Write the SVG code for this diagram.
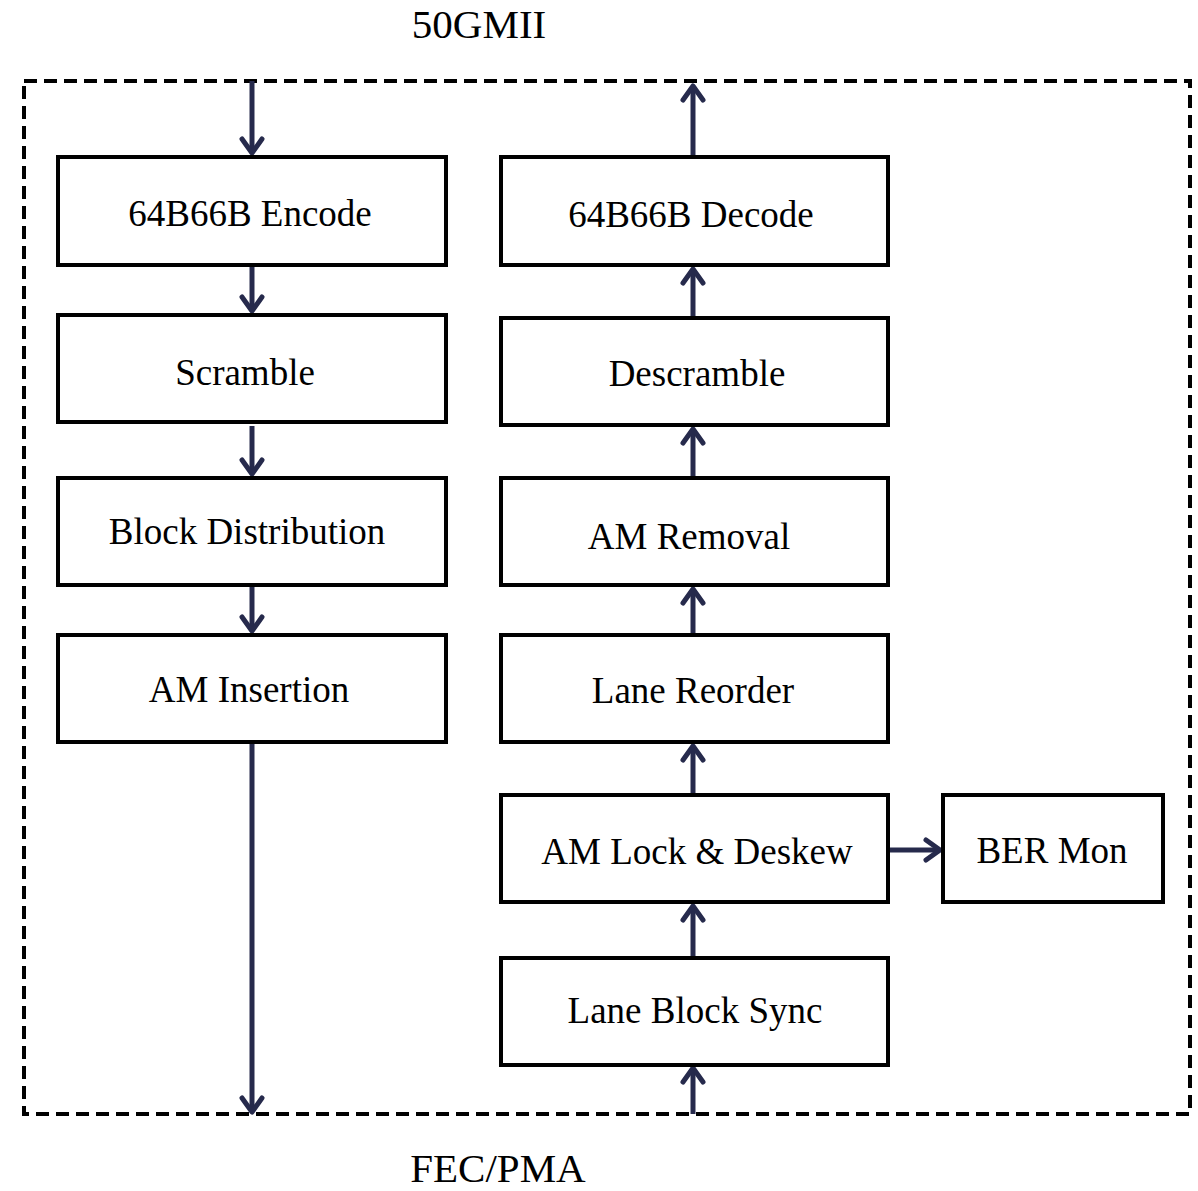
<svg xmlns="http://www.w3.org/2000/svg" width="1198" height="1191" viewBox="0 0 1198 1191">
  <style>
    .box { fill: #ffffff; stroke: #000000; stroke-width: 4; }
    .lbl { font-family: "Liberation Serif", "Times New Roman", serif; font-size: 37px; fill: #000000; text-anchor: middle; }
    .ext { font-family: "Liberation Serif", "Times New Roman", serif; font-size: 41px; fill: #000000; text-anchor: middle; }
    .wire { stroke: #262a4c; stroke-width: 5; fill: none; marker-end: url(#chev); }
    .frame { fill: none; stroke: #000000; stroke-width: 4; stroke-dasharray: 13 7; }
  </style>
  <defs>
    <marker id="chev" viewBox="-18 -15 22 30" markerWidth="22" markerHeight="30" markerUnits="userSpaceOnUse" orient="auto" refX="0" refY="0">
      <path d="M-14,-10 L0,0 L-14,10" fill="none" stroke="#262a4c" stroke-width="5" stroke-linecap="round" stroke-linejoin="round"/>
    </marker>
  </defs>

  <rect class="frame" x="24" y="81" width="1166" height="1033"/>

  <text class="ext" x="479" y="38">50GMII</text>
  <text class="ext" x="498" y="1182">FEC/PMA</text>

  <g id="connectors">
    <line class="wire" x1="252" y1="81" x2="252" y2="153"/>
    <line class="wire" x1="252" y1="265" x2="252" y2="311"/>
    <line class="wire" x1="252" y1="426" x2="252" y2="474"/>
    <line class="wire" x1="252" y1="585" x2="252" y2="631"/>
    <line class="wire" x1="252" y1="742" x2="252" y2="1112"/>

    <line class="wire" x1="693" y1="157" x2="693" y2="86"/>
    <line class="wire" x1="693" y1="318" x2="693" y2="269"/>
    <line class="wire" x1="693" y1="478" x2="693" y2="429"/>
    <line class="wire" x1="693" y1="635" x2="693" y2="589"/>
    <line class="wire" x1="693" y1="795" x2="693" y2="746"/>
    <line class="wire" x1="693" y1="956" x2="693" y2="906"/>
    <line class="wire" x1="693" y1="1114" x2="693" y2="1068"/>
    <line class="wire" x1="888" y1="850" x2="940" y2="850"/>
  </g>

  <g id="encode">
    <rect class="box" x="58" y="157" width="388" height="108"/>
    <text class="lbl" x="250" y="226">64B66B Encode</text>
  </g>
  <g id="scramble">
    <rect class="box" x="58" y="315" width="388" height="107"/>
    <text class="lbl" x="245" y="385">Scramble</text>
  </g>
  <g id="block-distribution">
    <rect class="box" x="58" y="478" width="388" height="107"/>
    <text class="lbl" x="247" y="544">Block Distribution</text>
  </g>
  <g id="am-insertion">
    <rect class="box" x="58" y="635" width="388" height="107"/>
    <text class="lbl" x="249" y="702">AM Insertion</text>
  </g>

  <g id="decode">
    <rect class="box" x="501" y="157" width="387" height="108"/>
    <text class="lbl" x="691" y="227">64B66B Decode</text>
  </g>
  <g id="descramble">
    <rect class="box" x="501" y="318" width="387" height="107"/>
    <text class="lbl" x="697" y="386">Descramble</text>
  </g>
  <g id="am-removal">
    <rect class="box" x="501" y="478" width="387" height="107"/>
    <text class="lbl" x="689" y="549">AM Removal</text>
  </g>
  <g id="lane-reorder">
    <rect class="box" x="501" y="635" width="387" height="107"/>
    <text class="lbl" x="693" y="703">Lane Reorder</text>
  </g>
  <g id="am-lock-deskew">
    <rect class="box" x="501" y="795" width="387" height="107"/>
    <text class="lbl" x="697" y="864">AM Lock &amp; Deskew</text>
  </g>
  <g id="ber-mon">
    <rect class="box" x="943" y="795" width="220" height="107"/>
    <text class="lbl" x="1052" y="863">BER Mon</text>
  </g>
  <g id="lane-block-sync">
    <rect class="box" x="501" y="958" width="387" height="107"/>
    <text class="lbl" x="695" y="1023">Lane Block Sync</text>
  </g>
</svg>
